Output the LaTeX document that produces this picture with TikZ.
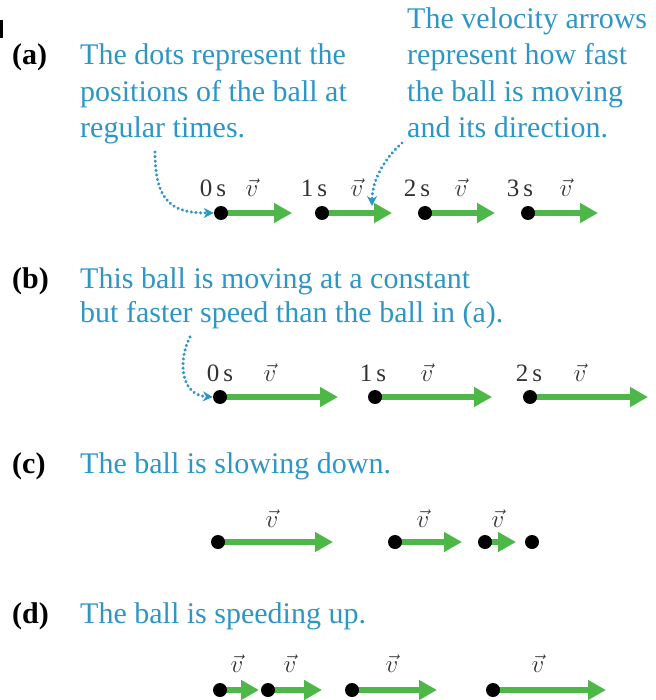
\documentclass[tikz,border=0pt]{standalone}
\usepackage{fontspec}
\setmainfont{Liberation Serif}
\usetikzlibrary{arrows.meta}
\definecolor{tblue}{HTML}{2E96C4}
\definecolor{vgreen}{HTML}{4DB748}
\definecolor{lgray}{HTML}{333333}
\begin{document}
\begin{tikzpicture}[x=1pt,y=-1pt,
  txt/.style={anchor=base west,inner sep=0pt,text=tblue,font=\fontsize{30}{36}\selectfont},
  plabel/.style={anchor=base west,inner sep=0pt,text=black,font=\fontsize{30}{36}\selectfont\bfseries},
  tlabel/.style={anchor=base,inner sep=0pt,text=lgray,font=\fontsize{25}{28}\selectfont},
  vlabel/.style={anchor=base,inner sep=0pt,text=lgray,font=\fontsize{26}{28}\selectfont},
  vel/.style={draw=vgreen,line width=6pt,-{Triangle[width=19pt,length=18pt]}},
  ball/.style={circle,fill=black,inner sep=0pt,minimum size=14pt},
  pointer/.style={draw=tblue,line width=3.4pt,dash pattern=on 0.01pt off 4.6pt,line cap=round,
     -{Stealth[length=10pt,width=10pt,line cap=butt]}}]
\useasboundingbox (0,0) rectangle (655,700);
\fill[black] (0,20) rectangle (3,38);
% (a)
\node[plabel] (la) at (12,65) {(a)};
\node[txt] (a1) at (80,65) {The dots represent the};
\node[txt] (a2) at (80,102) {positions of the ball at};
\node[txt] (a3) at (80,138) {regular times.};
\node[txt] (r0) at (407,29) {The velocity arrows};
\node[txt] (r1) at (407,65) {represent how fast};
\node[txt] (r2) at (407,102) {the ball is moving};
\node[txt] (r3) at (407,138) {and its direction.};
\foreach \i/\x/\t in {0/221/292,1/322/392,2/425/495,3/528/598}{
  \coordinate (pa\i) at (\x,213);
  \coordinate (ta\i) at (\t,213);
  \draw[vel] (pa\i) -- (ta\i);
  \node[ball] (ba\i) at (pa\i) {};
}
\node[tlabel] (sa0) at (213,197) {0\,s};
\node[vlabel] (va0) at (252,197) {$\vec{v}$};
\node[tlabel] (sa1) at (314,197) {1\,s};
\node[vlabel] (va1) at (357,197) {$\vec{v}$};
\node[tlabel] (sa2) at (417,197) {2\,s};
\node[vlabel] (va2) at (461,197) {$\vec{v}$};
\node[tlabel] (sa3) at (520,197) {3\,s};
\node[vlabel] (va3) at (566,197) {$\vec{v}$};
\coordinate (c1s) at (155,152);
\coordinate (c2s) at (402,143);
\coordinate (c2e) at (372,206);
\draw[pointer] (c1s) .. controls (155,205) and (175,213) .. (ba0.west);
\draw[pointer] (c2s) .. controls (385,158) and (372,180) .. (c2e);
% (b)
\node[plabel] (lb) at (12,288) {(b)};
\node[txt] (b1) at (80,288) {This ball is moving at a constant};
\node[txt] (b2) at (80,322) {but faster speed than the ball in (a).};
\foreach \i/\x/\t in {0/220/338,1/375/492,2/530/648}{
  \coordinate (pb\i) at (\x,397);
  \coordinate (tb\i) at (\t,397);
  \draw[vel] (pb\i) -- (tb\i);
  \node[ball] (bb\i) at (pb\i) {};
}
\node[tlabel] (sb0) at (220,381) {0\,s};
\node[vlabel] (vb0) at (270,381) {$\vec{v}$};
\node[tlabel] (sb1) at (373,381) {1\,s};
\node[vlabel] (vb1) at (427,381) {$\vec{v}$};
\node[tlabel] (sb2) at (529,381) {2\,s};
\node[vlabel] (vb2) at (580,381) {$\vec{v}$};
\coordinate (c3s) at (190,337);
\draw[pointer] (c3s) .. controls (178,360) and (180,395) .. (bb0.west);
% (c)
\node[plabel] (lc) at (12,473) {(c)};
\node[txt] (c1) at (80,473) {The ball is slowing down.};
\coordinate (pc0) at (218,542);
\coordinate (pc1) at (395,542);
\coordinate (pc2) at (485,542);
\coordinate (pc3) at (532,542);
\coordinate (tc0) at (333,542);
\coordinate (tc1) at (462,542);
\coordinate (tc2) at (516,542);
\draw[vel] (pc0) -- (tc0);
\draw[vel] (pc1) -- (tc1);
\draw[vel] (pc2) -- (tc2);
\node[ball] (bc0) at (pc0) {};
\node[ball] (bc1) at (pc1) {};
\node[ball] (bc2) at (pc2) {};
\node[ball] (bc3) at (pc3) {};
\node[vlabel] (vc0) at (272,527) {$\vec{v}$};
\node[vlabel] (vc1) at (423,527) {$\vec{v}$};
\node[vlabel] (vc2) at (498,527) {$\vec{v}$};
% (d)
\node[plabel] (ld) at (12,623) {(d)};
\node[txt] (d1) at (80,623) {The ball is speeding up.};
\foreach \i/\x/\t in {0/220/259,1/268/322,2/352/437,3/493/606}{
  \coordinate (pd\i) at (\x,690);
  \coordinate (td\i) at (\t,690);
  \draw[vel] (pd\i) -- (td\i);
}
\foreach \i in {0,1,2,3}{\node[ball] (bd\i) at (pd\i) {};}
\node[vlabel] (vd0) at (237,672) {$\vec{v}$};
\node[vlabel] (vd1) at (290,672) {$\vec{v}$};
\node[vlabel] (vd2) at (392,672) {$\vec{v}$};
\node[vlabel] (vd3) at (538,672) {$\vec{v}$};
\end{tikzpicture}
\end{document}
